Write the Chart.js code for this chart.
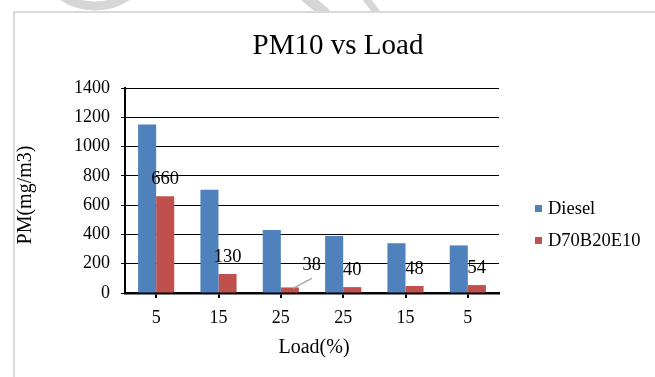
<!DOCTYPE html>
<html>
<head>
<meta charset="utf-8">
<title>PM10 vs Load</title>
<script src="https://cdn.jsdelivr.net/npm/chart.js@4.4.1/dist/chart.umd.min.js"></script>
<style>
  html, body { margin: 0; padding: 0; background: #ffffff; }
  #wrap { width: 655px; height: 377px; position: relative; }
</style>
</head>
<body>
<div id="wrap"><canvas id="c" width="655" height="377"></canvas></div>
<script>
// Engine load steps (%) – rising then falling
const loads = ['5', '15', '25', '25', '15', '5'];
// PM10 emissions, mg/m3
const diesel = [1150, 705, 430, 390, 340, 325];
const blend = [660, 130, 38, 40, 48, 54];
const seriesNames = ['Diesel', 'D70B20E10'];
const yTicks = [0, 200, 400, 600, 800, 1000, 1200, 1400];

const chartTitle = 'PM10 vs Load';
const xTitle = 'Load(%)';
const yTitle = 'PM(mg/m3)';

const BLUE = '#4F81BD';
const RED = '#C0504D';
const SERIF = '"Liberation Serif", "Times New Roman", serif';

// Plot-area edges in canvas pixels
const AREA = { left: 125, right: 499, top: 88, bottom: 293 };

const decor = {
  id: 'decor',
  beforeDraw(chart) {
    const ctx = chart.ctx;
    ctx.save();
    ctx.fillStyle = '#ffffff';
    ctx.fillRect(0, 0, chart.width, chart.height);

    // faint page ornaments along the top edge
    ctx.strokeStyle = '#d6d6d6';
    ctx.lineWidth = 9;
    ctx.beginPath();
    ctx.arc(95, -52, 58, 0.25 * Math.PI, 0.78 * Math.PI);
    ctx.stroke();
    ctx.lineWidth = 11;
    ctx.beginPath();
    ctx.moveTo(305, -4); ctx.lineTo(326, 14);
    ctx.stroke();
    ctx.lineWidth = 7;
    ctx.beginPath();
    ctx.moveTo(364, -4); ctx.lineTo(378, 14);
    ctx.stroke();

    // chart frame
    ctx.fillStyle = '#ffffff';
    ctx.fillRect(13, 11, chart.width - 13, chart.height - 11);
    ctx.strokeStyle = '#d9d9d9';
    ctx.lineWidth = 2;
    ctx.beginPath();
    ctx.moveTo(14, chart.height);
    ctx.lineTo(14, 12);
    ctx.lineTo(chart.width, 12);
    ctx.stroke();
    ctx.restore();
  },
  afterDraw(chart) {
    const ctx = chart.ctx;
    ctx.save();
    ctx.fillStyle = '#000000';
    ctx.textAlign = 'center';
    ctx.textBaseline = 'middle';

    // title
    ctx.font = '29px ' + SERIF;
    ctx.fillText(chartTitle, 338, 46);

    // axis titles
    ctx.font = '20px ' + SERIF;
    ctx.fillText(xTitle, 314, 348);
    ctx.save();
    ctx.translate(26, 195);
    ctx.rotate(-Math.PI / 2);
    ctx.font = '20px ' + SERIF;
    ctx.fillText(yTitle, 0, 0);
    ctx.restore();

    // legend
    ctx.font = '18.5px ' + SERIF;
    ctx.textAlign = 'left';
    chart.data.datasets.forEach((ds, i) => {
      const cy = 209 + i * 32;
      ctx.fillStyle = ds.backgroundColor;
      ctx.fillRect(535, cy - 4, 7, 7);
      ctx.fillStyle = '#000000';
      ctx.fillText(ds.label, 548, cy);
    });

    // value labels on the blend series
    const meta = chart.getDatasetMeta(1);
    ctx.font = '18.5px ' + SERIF;
    ctx.textAlign = 'center';
    meta.data.forEach((bar, i) => {
      const text = String(chart.data.datasets[1].data[i]);
      if (i === 2) {
        // small bar: label pulled aside with a leader line
        const lx = bar.x + 22, ly = bar.y - 22;
        ctx.strokeStyle = '#a6a6a6';
        ctx.lineWidth = 1.5;
        ctx.beginPath();
        ctx.moveTo(bar.x + 3, bar.y + 1);
        ctx.lineTo(lx, ly + 13);
        ctx.stroke();
        ctx.fillStyle = '#000000';
        ctx.fillText(text, lx, ly);
      } else {
        ctx.fillStyle = '#000000';
        ctx.fillText(text, bar.x, bar.y - 17);
      }
    });
    ctx.restore();
  }
};

new Chart(document.getElementById('c'), {
  type: 'bar',
  data: {
    labels: loads,
    datasets: [
      { label: seriesNames[0], data: diesel, backgroundColor: BLUE, borderWidth: 0 },
      { label: seriesNames[1], data: blend, backgroundColor: RED, borderWidth: 0 }
    ]
  },
  options: {
    responsive: false,
    animation: false,
    devicePixelRatio: 1,
    layout: { padding: { left: 0, top: AREA.top, right: 655 - AREA.right, bottom: 0 } },
    datasets: { bar: { categoryPercentage: 0.58, barPercentage: 1.0 } },
    plugins: {
      legend: { display: false },
      title: { display: false },
      tooltip: { enabled: false }
    },
    scales: {
      x: {
        grid: { drawOnChartArea: false, offset: false, tickLength: 5, color: '#000000', lineWidth: 2 },
        border: { color: '#000000', width: 2.5 },
        ticks: { color: '#000000', font: { family: SERIF, size: 18 }, padding: 9, maxRotation: 0 },
        afterFit(scale) { scale.height = 377 - AREA.bottom; }
      },
      y: {
        min: 0,
        max: yTicks[yTicks.length - 1],
        afterBuildTicks(scale) { scale.ticks = yTicks.map(v => ({ value: v })); },
        grid: { color: '#000000', lineWidth: 1, tickLength: 4 },
        border: { color: '#000000', width: 2 },
        ticks: {
          color: '#000000',
          font: { family: SERIF, size: 18 },
          padding: 11,
          callback: (v) => String(v)
        },
        afterFit(scale) { scale.width = AREA.left; }
      }
    }
  },
  plugins: [decor]
});
</script>
</body>
</html>
